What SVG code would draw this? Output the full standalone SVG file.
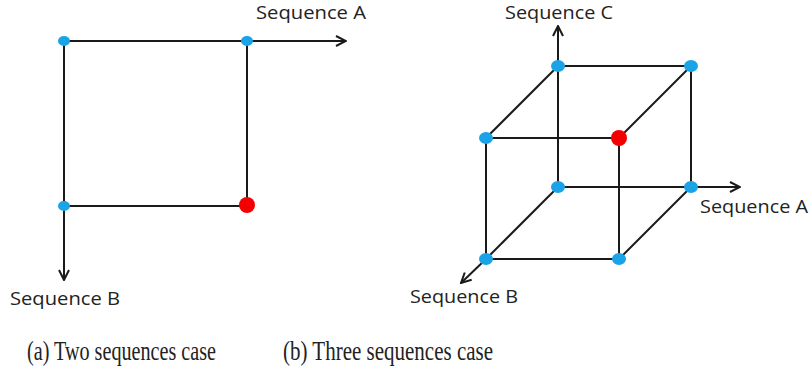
<svg xmlns="http://www.w3.org/2000/svg" width="812" height="374" viewBox="0 0 812 374">
<style>
.ln{stroke:#1a1a1a;stroke-width:2;fill:none}
.b{fill:#1aa3e6}
.r{fill:#f50000}
.lbl{font-family:"Open Sans","Liberation Sans",sans-serif;font-size:19px;fill:#222}
.cap{font-family:"Liberation Serif","DejaVu Serif",serif;font-size:27px;fill:#222}
</style>
<defs>
<marker id="arr" viewBox="0 0 12 12" refX="11" refY="6" markerWidth="12" markerHeight="12" markerUnits="userSpaceOnUse" orient="auto">
<path d="M1,1 L11,6 L1,11" fill="none" stroke="#1a1a1a" stroke-width="2"/>
</marker>
</defs>
<g id="connectors">
<line class="ln" x1="64" y1="41" x2="346" y2="41" marker-end="url(#arr)"/>
<line class="ln" x1="64" y1="41" x2="64" y2="280" marker-end="url(#arr)"/>
<line class="ln" x1="247" y1="41" x2="247" y2="205"/>
<line class="ln" x1="64" y1="206" x2="247" y2="206"/>
<line class="ln" x1="558" y1="66" x2="558" y2="26" marker-end="url(#arr)"/>
<line class="ln" x1="558" y1="187" x2="740" y2="187" marker-end="url(#arr)"/>
<line class="ln" x1="486" y1="259" x2="461" y2="283" marker-end="url(#arr)"/>
<line class="ln" x1="558" y1="66" x2="691" y2="66"/>
<line class="ln" x1="558" y1="66" x2="558" y2="187"/>
<line class="ln" x1="691" y1="66" x2="691" y2="187"/>
<line class="ln" x1="486" y1="138" x2="619" y2="138"/>
<line class="ln" x1="486" y1="138" x2="486" y2="259"/>
<line class="ln" x1="619" y1="138" x2="619" y2="259"/>
<line class="ln" x1="486" y1="259" x2="619" y2="259"/>
<line class="ln" x1="558" y1="66" x2="486" y2="138"/>
<line class="ln" x1="691" y1="66" x2="619" y2="138"/>
<line class="ln" x1="558" y1="187" x2="486" y2="259"/>
<line class="ln" x1="691" y1="187" x2="619" y2="259"/>
</g>
<g id="a-n1"><ellipse class="b" cx="64" cy="41" rx="6" ry="5"/></g>
<g id="a-n2"><ellipse class="b" cx="247" cy="41" rx="6" ry="5"/></g>
<g id="a-n3"><ellipse class="b" cx="64" cy="206" rx="6" ry="5"/></g>
<g id="a-n4"><circle class="r" cx="247" cy="205" r="8"/></g>
<g id="b-n1"><ellipse class="b" cx="558" cy="66" rx="7" ry="6"/></g>
<g id="b-n2"><ellipse class="b" cx="691" cy="66" rx="7" ry="6"/></g>
<g id="b-n3"><ellipse class="b" cx="486" cy="138" rx="7" ry="6"/></g>
<g id="b-n4"><circle class="r" cx="619" cy="138" r="8"/></g>
<g id="b-n5"><ellipse class="b" cx="558" cy="187" rx="7" ry="6"/></g>
<g id="b-n6"><ellipse class="b" cx="691" cy="187" rx="7" ry="6"/></g>
<g id="b-n7"><ellipse class="b" cx="486" cy="259" rx="7" ry="6"/></g>
<g id="b-n8"><ellipse class="b" cx="619" cy="259" rx="7" ry="6"/></g>
<g id="labels">
<text class="lbl" x="256" y="19" textLength="110" lengthAdjust="spacingAndGlyphs">Sequence A</text>
<text class="lbl" x="10" y="305" textLength="110" lengthAdjust="spacingAndGlyphs">Sequence B</text>
<text class="lbl" x="505" y="19" textLength="108" lengthAdjust="spacingAndGlyphs">Sequence C</text>
<text class="lbl" x="700" y="213" textLength="108" lengthAdjust="spacingAndGlyphs">Sequence A</text>
<text class="lbl" x="410" y="303" textLength="108" lengthAdjust="spacingAndGlyphs">Sequence B</text>
<text class="cap" x="27" y="360" textLength="189" lengthAdjust="spacingAndGlyphs">(a) Two sequences case</text>
<text class="cap" x="283" y="360" textLength="210" lengthAdjust="spacingAndGlyphs">(b) Three sequences case</text>
</g>
</svg>
